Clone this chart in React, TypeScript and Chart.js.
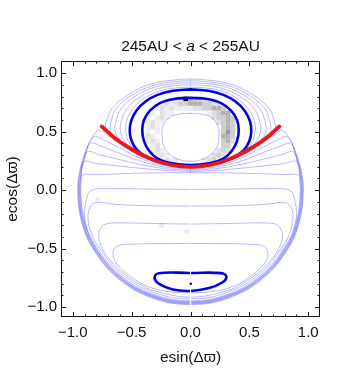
import React, { useEffect, useRef } from 'react';
import { Chart, registerables } from 'chart.js';

Chart.register(...registerables);

// ---------- axes / text ----------
const xRange = [-1.1, 1.1];
const yRange = [-1.085, 1.105];
const majorTicks = [-1, -0.5, 0, 0.5, 1];
const tickLabels = ['\u22121.0', '\u22120.5', '0.0', '0.5', '1.0'];
const minorTicks = [-1, -0.9, -0.8, -0.7, -0.6, -0.5, -0.4, -0.3, -0.2, -0.1, 0, 0.1, 0.2, 0.3, 0.4, 0.5, 0.6, 0.7, 0.8, 0.9, 1];
const titleParts = ['245AU < ', 'a', ' < 255AU'];
const xTitle = 'esin(\u0394\u03D6)';
const yTitle = 'ecos(\u0394\u03D6)';

// ---------- contours (left halves, mirrored about x = 0) ----------
const separatrixHalf = [[-0.755, 0.545], [-0.68, 0.477], [-0.6, 0.414], [-0.5, 0.35], [-0.4, 0.296], [-0.3, 0.254], [-0.2, 0.224], [-0.1, 0.206], [0, 0.2]];

const thickOuterHalf = [[0, 0.862], [-0.15, 0.85], [-0.28, 0.815], [-0.38, 0.76], [-0.46, 0.68], [-0.505, 0.59], [-0.516, 0.5], [-0.50, 0.42], [-0.455, 0.345], [-0.38, 0.29], [-0.28, 0.247], [-0.15, 0.218], [0, 0.21]];
const thickInnerHalf = [[0, 0.79], [-0.14, 0.78], [-0.26, 0.745], [-0.345, 0.68], [-0.395, 0.6], [-0.41, 0.514], [-0.395, 0.42], [-0.35, 0.335], [-0.28, 0.27], [-0.17, 0.232], [0, 0.215]];
const bottomLoop = [[0, -0.708], [0.26, -0.71], [0.305, -0.74], [0.27, -0.79], [0.15, -0.84], [0, -0.862], [-0.15, -0.85], [-0.27, -0.80], [-0.305, -0.75], [-0.27, -0.71], [0, -0.708]];
const centreDot = [[0.003, -0.80]];

const innerOvalHalf = [[0, 0.657], [-0.1, 0.65], [-0.18, 0.62], [-0.232, 0.55], [-0.242, 0.456], [-0.22, 0.36], [-0.14, 0.28], [-0.07, 0.255], [0, 0.248]];

const upperHalves = [
  [[0, 0.88], [-0.1, 0.877], [-0.26, 0.85], [-0.41, 0.775], [-0.50, 0.68], [-0.54, 0.6], [-0.55, 0.5], [-0.515, 0.4], [-0.44, 0.318], [-0.3, 0.254], [-0.15, 0.215], [0, 0.206]],
  [[0, 0.90], [-0.1, 0.897], [-0.28, 0.867], [-0.44, 0.79], [-0.545, 0.69], [-0.585, 0.6], [-0.595, 0.5], [-0.545, 0.4], [-0.45, 0.325], [-0.3, 0.256], [-0.15, 0.216], [0, 0.205]],
  [[0, 0.918], [-0.1, 0.915], [-0.30, 0.882], [-0.475, 0.80], [-0.59, 0.695], [-0.63, 0.6], [-0.64, 0.5], [-0.59, 0.42], [-0.48, 0.342], [-0.3, 0.257], [-0.15, 0.216], [0, 0.204]],
  [[0, 0.935], [-0.1, 0.932], [-0.32, 0.895], [-0.51, 0.805], [-0.63, 0.70], [-0.67, 0.6], [-0.68, 0.5], [-0.63, 0.445], [-0.52, 0.365], [-0.3, 0.256], [-0.15, 0.215], [0, 0.203]],
  [[0, 0.95], [-0.1, 0.947], [-0.34, 0.907], [-0.54, 0.81], [-0.665, 0.70], [-0.71, 0.6], [-0.72, 0.52], [-0.67, 0.472], [-0.55, 0.384], [-0.3, 0.256], [-0.15, 0.215], [0, 0.202]],
];

const lowerHalves = [
  [[0, 0.20], [-0.2, 0.218], [-0.4, 0.28], [-0.6, 0.395], [-0.72, 0.48], [-0.785, 0.51], [-0.846, 0.429], [-0.901, 0.308], [-0.944, 0.147], [-0.958, -0.02], [-0.925, -0.268], [-0.830, -0.499], [-0.616, -0.754], [-0.328, -0.921], [0, -0.978]],
  [[0, 0.19], [-0.2, 0.207], [-0.4, 0.262], [-0.6, 0.36], [-0.74, 0.43], [-0.825, 0.456], [-0.896, 0.306], [-0.939, 0.146], [-0.953, -0.02], [-0.921, -0.267], [-0.825, -0.497], [-0.613, -0.75], [-0.326, -0.916], [0, -0.973]],
  [[0, 0.18], [-0.2, 0.195], [-0.4, 0.24], [-0.6, 0.315], [-0.76, 0.375], [-0.85, 0.40], [-0.891, 0.304], [-0.934, 0.145], [-0.948, -0.02], [-0.916, -0.266], [-0.821, -0.494], [-0.610, -0.746], [-0.324, -0.911], [0, -0.968]],
  [[0, 0.17], [-0.2, 0.182], [-0.4, 0.215], [-0.6, 0.26], [-0.78, 0.305], [-0.875, 0.328], [-0.911, 0.224], [-0.929, 0.144], [-0.943, -0.02], [-0.911, -0.264], [-0.817, -0.492], [-0.606, -0.742], [-0.323, -0.906], [0, -0.963]],
  [[0, 0.16], [-0.2, 0.168], [-0.4, 0.185], [-0.6, 0.205], [-0.8, 0.228], [-0.905, 0.242], [-0.929, 0.11], [-0.938, -0.02], [-0.906, -0.263], [-0.812, -0.489], [-0.603, -0.739], [-0.321, -0.902], [0, -0.958]],
  [[0, 0.15], [-0.3, 0.148], [-0.6, 0.14], [-0.8, 0.133], [-0.92, 0.128], [-0.929, 0.061], [-0.933, -0.02], [-0.901, -0.262], [-0.808, -0.487], [-0.6, -0.735], [-0.319, -0.897], [0, -0.953]],
  [[0, 0.006], [-0.4, 0.01], [-0.7, 0.013], [-0.84, 0.0], [-0.88, -0.06], [-0.895, -0.26], [-0.802, -0.483], [-0.595, -0.729], [-0.317, -0.89], [0, -0.946]],
  [[0, -0.137], [-0.4, -0.132], [-0.65, -0.12], [-0.80, -0.105], [-0.85, -0.14], [-0.87, -0.22], [-0.855, -0.331], [-0.788, -0.475], [-0.585, -0.717], [-0.311, -0.875], [0, -0.93]],
  [[0, -0.29], [-0.35, -0.285], [-0.6, -0.28], [-0.72, -0.29], [-0.765, -0.33], [-0.78, -0.40], [-0.75, -0.5], [-0.68, -0.6], [-0.575, -0.706], [-0.448, -0.795], [-0.306, -0.861], [0, -0.915]],
  [[0, -0.456], [-0.3, -0.458], [-0.5, -0.462], [-0.62, -0.478], [-0.655, -0.52], [-0.645, -0.6], [-0.585, -0.675], [-0.47, -0.765], [-0.36, -0.825], [-0.2, -0.865], [0, -0.878]],
];

const plotGap = [[0, 0.08], [0, -0.99]];

// ---------- histogram cells (gray levels 1..9, '.' = empty) ----------
const cellColumnsX = [-0.40, -0.36, -0.32, -0.28, -0.24, -0.20, -0.16, -0.12, -0.08, -0.04, 0, 0.04, 0.08, 0.12, 0.16, 0.20, 0.24, 0.28, 0.32, 0.36, 0.40];
const cellRowsY = [0.78, 0.74, 0.70, 0.66, 0.62, 0.58, 0.54, 0.50, 0.46, 0.42, 0.38, 0.34, 0.30, 0.26];
const cellRows = [
  '.......1294321.......',
  '....1212334443321....',
  '...121211112233443...',
  '..1.211.......12344..',
  '.1.121.........23343.',
  '.1211...........2343.',
  '.121.............343.',
  '.1.1.............353.',
  '.21..............443.',
  '.121.............342.',
  '..12.............33..',
  '..121...........232..',
  '...121.........232...',
  '....1211.....1232....',
];
const isolatedCells = [[-0.785, -0.077, 1], [-0.246, -0.30, 1], [-0.03, -0.35, 1]];
const grayLevels = ['#ffffff', '#eeeeee', '#e0e0e0', '#cfcfcf', '#b4b4b4', '#999999', '#7a7a7a', '#5a5a5a', '#333333', '#0a0a0a'];

// ---------- helpers ----------
const mirror = (half: number[][]) => [...half, ...half.slice(0, -1).reverse().map(([x, y]) => [-x, y])];
const toXY = (pts: number[][]) => pts.map(([x, y]) => ({ x, y }));

const lineDs = (pts: number[][], color: string, width: number, order: number, tension = 0.4) => ({
  data: toXY(pts),
  showLine: true,
  borderColor: color,
  borderWidth: width,
  pointRadius: 0,
  pointHoverRadius: 0,
  tension,
  fill: false,
  borderJoinStyle: 'round',
  borderCapStyle: 'round',
  order,
});

const LIGHT = 'rgba(60,60,255,0.36)';
const BLUE = 'rgb(0,0,235)';
const RED = 'rgb(236,22,22)';
const FONT = '"Liberation Sans", Arial, Helvetica, sans-serif';

const framePlugin = {
  id: 'framePlugin',
  afterDraw(chart: any) {
    const { ctx, chartArea: a, scales } = chart;
    const xs = scales.x;
    const ys = scales.y;
    ctx.save();
    ctx.strokeStyle = '#111';
    ctx.lineWidth = 1;
    ctx.strokeRect(a.left + 0.5, a.top + 0.5, a.right - a.left - 1, a.bottom - a.top - 1);
    ctx.beginPath();
    for (const v of minorTicks) {
      const len = majorTicks.includes(v) ? 5 : 2.5;
      const px = Math.round(xs.getPixelForValue(v)) + 0.5;
      ctx.moveTo(px, a.bottom); ctx.lineTo(px, a.bottom - len);
      ctx.moveTo(px, a.top); ctx.lineTo(px, a.top + len);
      const py = Math.round(ys.getPixelForValue(v)) + 0.5;
      ctx.moveTo(a.left, py); ctx.lineTo(a.left + len, py);
      ctx.moveTo(a.right, py); ctx.lineTo(a.right - len, py);
    }
    ctx.stroke();

    ctx.fillStyle = '#111';
    ctx.font = `15px ${FONT}`;
    ctx.textBaseline = 'middle';
    majorTicks.forEach((v, i) => {
      ctx.textAlign = 'center';
      ctx.fillText(tickLabels[i], xs.getPixelForValue(v), a.bottom + 15.5);
      ctx.textAlign = 'right';
      ctx.fillText(tickLabels[i], a.left - 4, ys.getPixelForValue(v));
    });

    ctx.font = `15.5px ${FONT}`;
    ctx.textAlign = 'center';
    ctx.fillText(xTitle, (a.left + a.right) / 2, 357.5);
    ctx.save();
    ctx.translate(12.5, (a.top + a.bottom) / 2);
    ctx.rotate(-Math.PI / 2);
    ctx.fillText(yTitle, 0, 0);
    ctx.restore();

    // title with italic "a"
    const fonts = [`15.5px ${FONT}`, `italic 15.5px ${FONT}`, `15.5px ${FONT}`];
    const widths = titleParts.map((t, i) => { ctx.font = fonts[i]; return ctx.measureText(t).width; });
    const total = widths.reduce((s, w) => s + w, 0);
    let x = (a.left + a.right) / 2 - total / 2;
    ctx.textAlign = 'left';
    ctx.textBaseline = 'alphabetic';
    titleParts.forEach((t, i) => { ctx.font = fonts[i]; ctx.fillText(t, x, 50.5); x += widths[i]; });
    ctx.restore();
  },
};

export default function App() {
  const ref = useRef<HTMLCanvasElement>(null);
  useEffect(() => {
    if (!ref.current) return;
    const cells: any[] = [];
    cellRows.forEach((row, r) => {
      for (let c = 0; c < row.length; c++) {
        const ch = row[c];
        if (ch !== '.') cells.push({ x: cellColumnsX[c], y: cellRowsY[r], v: Number(ch) });
      }
    });
    isolatedCells.forEach(([x, y, v]) => cells.push({ x, y, v }));

    const datasets: any[] = [
      {
        data: cells,
        showLine: false,
        pointStyle: 'rect',
        pointRadius: 3.45,
        pointHoverRadius: 3.45,
        pointBorderWidth: 0,
        pointBackgroundColor: (c: any) => (c.raw ? grayLevels[c.raw.v] : '#ccc'),
        order: 100,
      },
      lineDs(mirror(innerOvalHalf), LIGHT, 1, 50),
      ...upperHalves.map((h) => lineDs(mirror(h), LIGHT, 1, 50)),
      ...lowerHalves.map((h) => lineDs(mirror(h), LIGHT, 1, 50)),
      lineDs(mirror(thickOuterHalf), BLUE, 2.6, 10),
      lineDs(mirror(thickInnerHalf), BLUE, 2.6, 10),
      lineDs(bottomLoop, BLUE, 2.6, 10, 0.4),
      lineDs(mirror(separatrixHalf), RED, 3.8, 5),
      lineDs(plotGap, '#ffffff', 1.2, 2, 0),
      {
        data: toXY(centreDot),
        showLine: false,
        pointRadius: 1.3,
        pointBorderWidth: 0,
        pointBackgroundColor: BLUE,
        order: 1,
      },
    ];

    const chart = new Chart(ref.current, {
      type: 'scatter',
      data: { datasets },
      options: {
        animation: false,
        responsive: false,
        maintainAspectRatio: false,
        devicePixelRatio: 1,
        events: [],
        layout: { padding: { left: 61, right: 40, top: 61, bottom: 63 } },
        plugins: { legend: { display: false }, tooltip: { enabled: false }, title: { display: false } },
        scales: {
          x: { type: 'linear', min: xRange[0], max: xRange[1], display: false },
          y: { type: 'linear', min: yRange[0], max: yRange[1], display: false },
        },
      } as any,
      plugins: [framePlugin],
    });
    return () => chart.destroy();
  }, []);

  return (
    <div style={{ position: 'fixed', left: 0, top: 0, width: 360, height: 380, background: '#ffffff' }}>
      <canvas ref={ref} width={360} height={380} style={{ display: 'block', width: 360, height: 380 }} />
    </div>
  );
}
